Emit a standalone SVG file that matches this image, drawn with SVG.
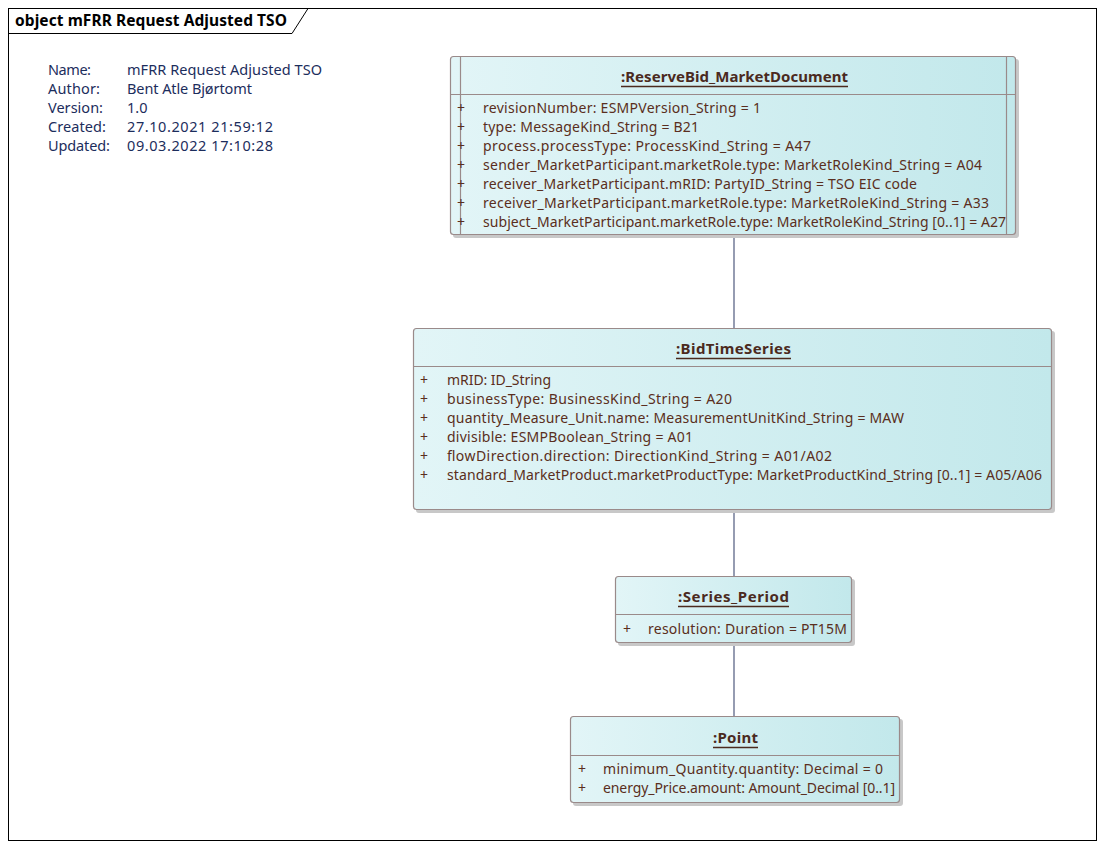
<svg xmlns="http://www.w3.org/2000/svg" width="1104" height="849" viewBox="0 0 1104 849">
<style>
.frame{fill:#fff;stroke:#000;stroke-width:1}
.ttl{font-family:"Noto Sans","DejaVu Sans",sans-serif;font-size:15.5px;font-weight:bold;fill:#000}
.info{font-family:"Noto Sans","DejaVu Sans",sans-serif;font-size:14.5px;fill:#1c2d5c}
.box{fill:url(#g);stroke:#9a8a8a;stroke-width:1.2}
.sh{fill:#c8c8c8}
.div{stroke:#9a8a8a;stroke-width:1.2}
.name{font-family:"Noto Sans","DejaVu Sans",sans-serif;font-size:15px;font-weight:bold;fill:#4b2a1e}
.ul{stroke:#4b2a1e;stroke-width:1.3}
.at{font-family:"Noto Sans","DejaVu Sans",sans-serif;font-size:14px;fill:#5a2e20}
.con{stroke:#4f5a7e;stroke-width:1.2;fill:none}
</style>
<defs>
<linearGradient id="g" x1="0" y1="0" x2="1" y2="0">
<stop offset="0" stop-color="#e2f5f7"/>
<stop offset="1" stop-color="#c2e8eb"/>
</linearGradient>
</defs>
<rect class="frame" x="8.5" y="8.5" width="1088" height="832"/>
<path d="M8.5 33.5 H292 L308 8.5" fill="none" stroke="#000" stroke-width="1"/>
<text class="ttl" x="15" y="26" textLength="272">object mFRR Request Adjusted TSO</text>
<g id="info" class="info">
<text x="48" y="75" textLength="43">Name:</text><text x="127" y="75" textLength="195">mFRR Request Adjusted TSO</text>
<text x="48" y="94" textLength="52">Author:</text><text x="127" y="94" textLength="125">Bent Atle Bjørtomt</text>
<text x="48" y="113" textLength="55">Version:</text><text x="127" y="113">1.0</text>
<text x="48" y="132" textLength="58">Created:</text><text x="127" y="132" textLength="146">27.10.2021 21:59:12</text>
<text x="48" y="151" textLength="62">Updated:</text><text x="127" y="151" textLength="146">09.03.2022 17:10:28</text>
</g>
<g id="connectors">
<line class="con" x1="734" y1="235" x2="734" y2="328"/>
<line class="con" x1="734" y1="510" x2="734" y2="576"/>
<line class="con" x1="734" y1="643" x2="734" y2="716"/>
</g>
<g id="n1">
<rect class="sh" x="453" y="59" width="566" height="179" rx="3"/>
<rect class="box" x="450.5" y="56.5" width="565" height="178" rx="3"/>
<line class="div" x1="460.5" y1="57" x2="460.5" y2="234"/>
<line class="div" x1="1006.5" y1="57" x2="1006.5" y2="234"/>
<line class="div" x1="451" y1="94.5" x2="1015" y2="94.5"/>
<text class="name" x="621" y="82" textLength="227">:ReserveBid_MarketDocument</text>
<line class="ul" x1="621" y1="86.5" x2="848" y2="86.5"/>
<g class="at">
<text x="457" y="113">+</text><text x="483" y="113" textLength="278">revisionNumber: ESMPVersion_String = 1</text>
<text x="457" y="132">+</text><text x="483" y="132" textLength="216">type: MessageKind_String = B21</text>
<text x="457" y="151">+</text><text x="483" y="151" textLength="328">process.processType: ProcessKind_String = A47</text>
<text x="457" y="170">+</text><text x="483" y="170" textLength="499">sender_MarketParticipant.marketRole.type: MarketRoleKind_String = A04</text>
<text x="457" y="189">+</text><text x="483" y="189" textLength="434">receiver_MarketParticipant.mRID: PartyID_String = TSO EIC code</text>
<text x="457" y="208">+</text><text x="483" y="208" textLength="506">receiver_MarketParticipant.marketRole.type: MarketRoleKind_String = A33</text>
<text x="457" y="227">+</text><text x="483" y="227" textLength="523">subject_MarketParticipant.marketRole.type: MarketRoleKind_String [0..1] = A27</text>
</g>
</g>
<g id="n2">
<rect class="sh" x="416" y="331" width="639" height="182" rx="3"/>
<rect class="box" x="413.5" y="328.5" width="638" height="181" rx="3"/>
<line class="div" x1="414" y1="366.5" x2="1051" y2="366.5"/>
<text class="name" x="676" y="354" textLength="115">:BidTimeSeries</text>
<line class="ul" x1="676" y1="358.5" x2="791" y2="358.5"/>
<g class="at">
<text x="420" y="385">+</text><text x="447" y="385" textLength="104">mRID: ID_String</text>
<text x="420" y="404">+</text><text x="447" y="404" textLength="285">businessType: BusinessKind_String = A20</text>
<text x="420" y="423">+</text><text x="447" y="423" textLength="457">quantity_Measure_Unit.name: MeasurementUnitKind_String = MAW</text>
<text x="420" y="442">+</text><text x="447" y="442" textLength="246">divisible: ESMPBoolean_String = A01</text>
<text x="420" y="461">+</text><text x="447" y="461" textLength="385">flowDirection.direction: DirectionKind_String = A01/A02</text>
<text x="420" y="480">+</text><text x="447" y="480" textLength="595">standard_MarketProduct.marketProductType: MarketProductKind_String [0..1] = A05/A06</text>
</g>
</g>
<g id="n3">
<rect class="sh" x="618" y="579" width="237" height="67" rx="3"/>
<rect class="box" x="615.5" y="576.5" width="236" height="66" rx="3"/>
<line class="div" x1="616" y1="614.5" x2="851" y2="614.5"/>
<text class="name" x="678" y="602" textLength="111">:Series_Period</text>
<line class="ul" x1="678" y1="606.5" x2="789" y2="606.5"/>
<g class="at">
<text x="623" y="634">+</text><text x="648" y="634" textLength="199">resolution: Duration = PT15M</text>
</g>
</g>
<g id="n4">
<rect class="sh" x="573" y="719" width="330" height="87" rx="3"/>
<rect class="box" x="570.5" y="716.5" width="329" height="86" rx="3"/>
<line class="div" x1="571" y1="755.5" x2="899" y2="755.5"/>
<text class="name" x="713" y="743" textLength="45">:Point</text>
<line class="ul" x1="713" y1="747.5" x2="758" y2="747.5"/>
<g class="at">
<text x="578" y="774">+</text><text x="603" y="774" textLength="280">minimum_Quantity.quantity: Decimal = 0</text>
<text x="578" y="793">+</text><text x="603" y="793" textLength="292">energy_Price.amount: Amount_Decimal [0..1]</text>
</g>
</g>
</svg>
